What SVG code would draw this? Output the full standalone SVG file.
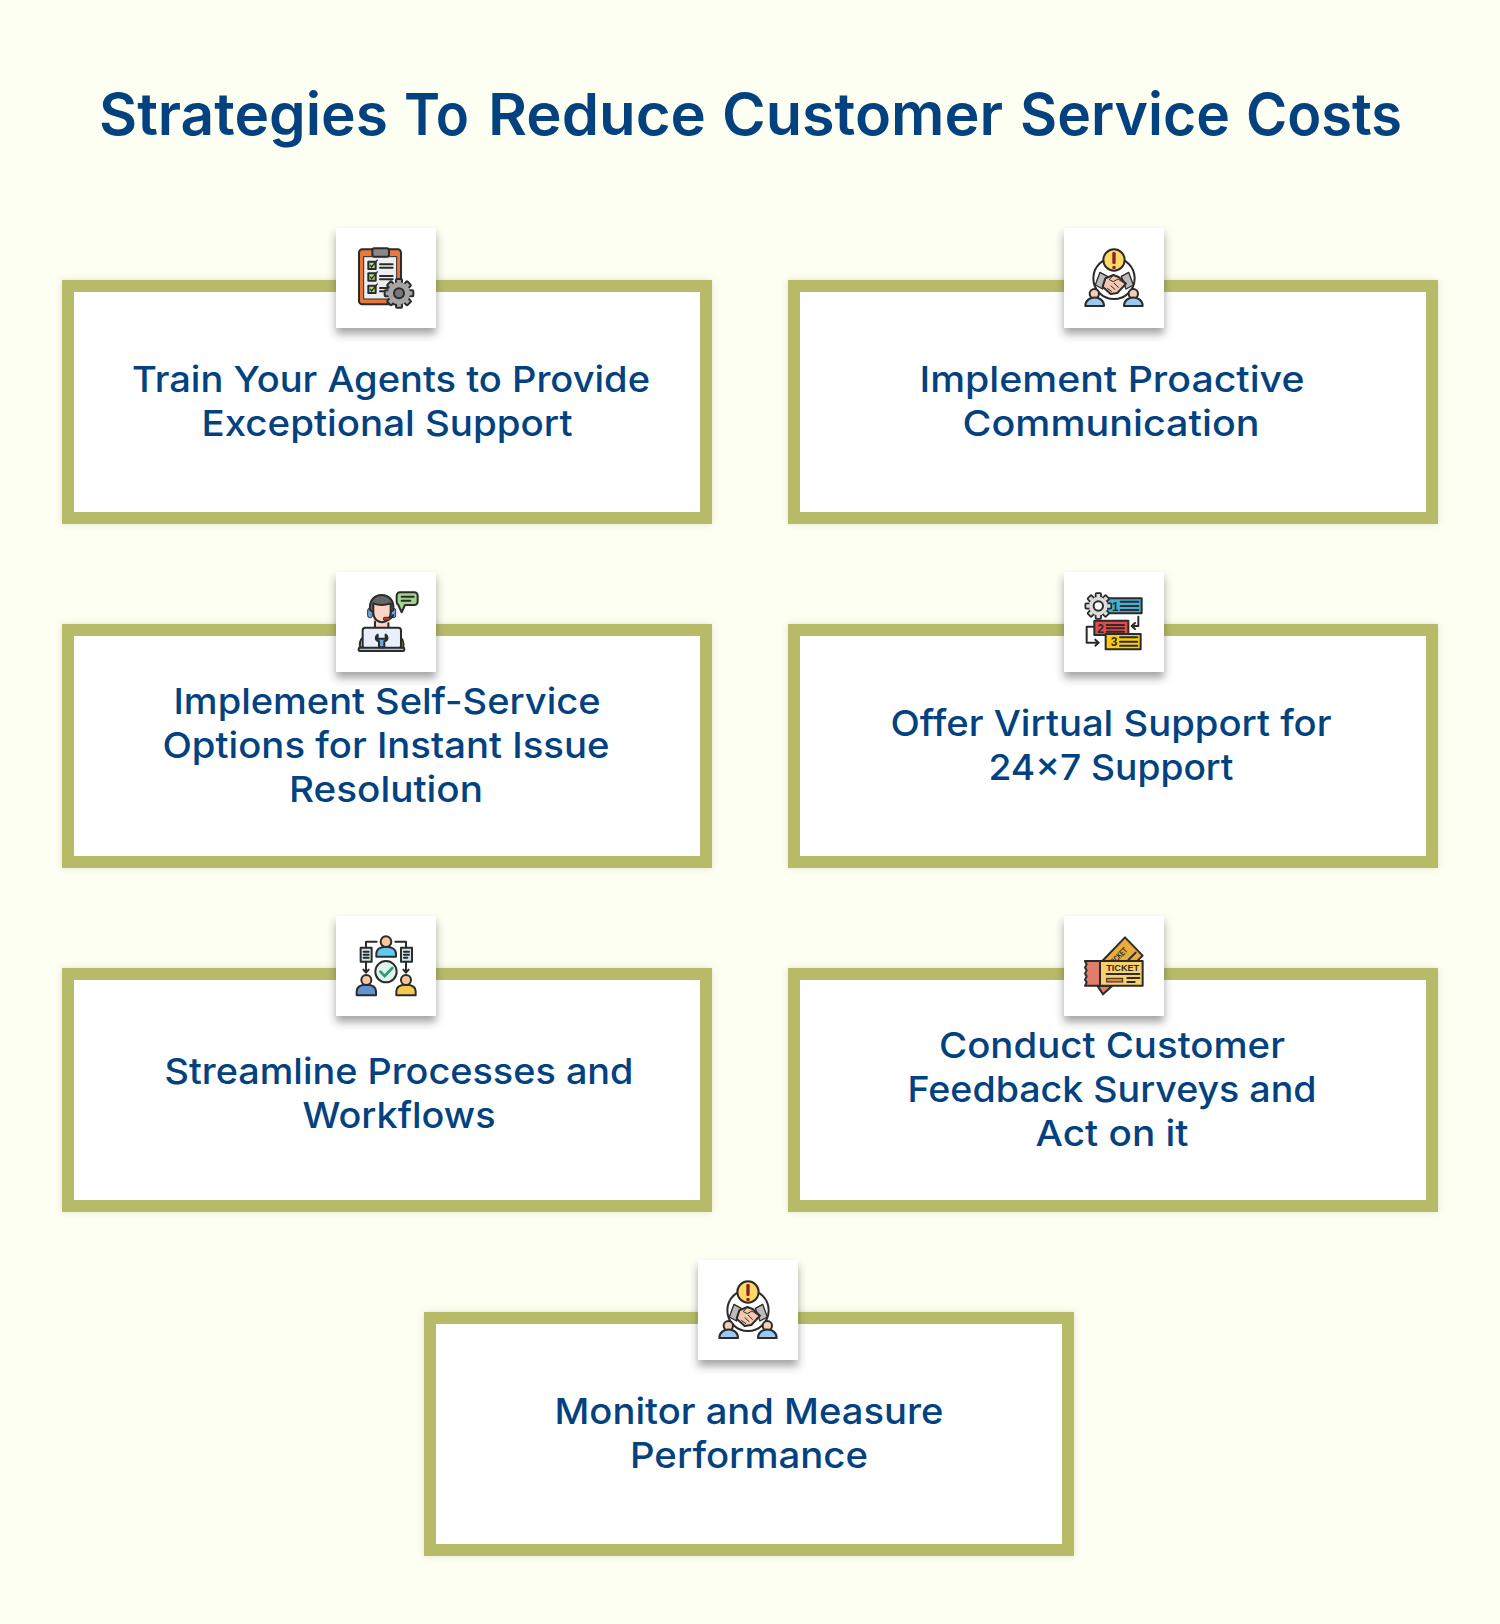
<svg xmlns="http://www.w3.org/2000/svg" xmlns:xlink="http://www.w3.org/1999/xlink" width="1500" height="1624" viewBox="0 0 1500 1624">
<style>
.box{fill:#fff;stroke:#b7bb68;stroke-width:12;filter:url(#glow)}
.tile{fill:#fff;filter:url(#sh)}
.t{font-family:"Inter","Liberation Sans",sans-serif;font-size:36px;fill:#04427f;text-anchor:middle;font-weight:450}
.h{font-family:"Inter","Liberation Sans",sans-serif;font-size:58px;font-weight:600;fill:#04427f}
.k{stroke:#2b2b2b;stroke-width:6;stroke-linejoin:round;stroke-linecap:round}
.l{stroke:#2b2b2b;stroke-width:6;stroke-linecap:round;stroke-linejoin:round;fill:none}
.d{font-family:"Liberation Sans",sans-serif;font-weight:700;fill:#2b2b2b;text-anchor:middle}
</style>
<defs>
<filter id="sh" x="-25%" y="-25%" width="150%" height="155%"><feDropShadow dx="0" dy="6" stdDeviation="4" flood-color="#333" flood-opacity=".45"/></filter>
<filter id="glow" x="-3%" y="-6%" width="106%" height="112%"><feDropShadow dx="0" dy="0" stdDeviation="3" flood-color="#8b8f50" flood-opacity=".25"/></filter>
<g id="tooth"><rect x="-9" y="-43" width="18" height="16" rx="3"/></g>
<g id="gear"><g class="k">
<use href="#tooth"/><use href="#tooth" transform="rotate(45)"/><use href="#tooth" transform="rotate(90)"/><use href="#tooth" transform="rotate(135)"/><use href="#tooth" transform="rotate(180)"/><use href="#tooth" transform="rotate(225)"/><use href="#tooth" transform="rotate(270)"/><use href="#tooth" transform="rotate(315)"/></g></g>
<g id="shake">
<circle cx="192" cy="190" r="62" fill="#fff" class="k"/>
<circle cx="192" cy="135" r="32" fill="#ffd966" class="k"/>
<rect x="187" y="111" width="10" height="36" rx="4" fill="#8b2020"/><rect x="187" y="153" width="10" height="9" rx="3" fill="#8b2020"/>
<path d="M150 172l22 12-14 38-22-12zM236 172l-22 12 14 38 22-12z" fill="#bbb" stroke="#2b2b2b" stroke-width="4" stroke-linejoin="round"/>
<path d="M166 190l24-10 16 6 22 20-26 28-20 3-24-22z" fill="#f3c7b0" class="k" stroke-width="4"/>
<path d="M190 180l-12 14 12 6 14-8 24 16M172 220l14 10M182 212l14 12M192 204l14 14" fill="none" stroke="#2b2b2b" stroke-width="3"/>
<circle cx="133" cy="236" r="14" fill="#f5cdb8" class="k"/><path d="M106 273c0-34 56-34 56 0z" fill="#9cc9f2" class="k"/>
<circle cx="250" cy="236" r="14" fill="#f5cdb8" class="k"/><path d="M222 273c0-34 56-34 56 0z" fill="#9cc9f2" class="k"/>
</g>
</defs>
<rect width="1500" height="1624" fill="#fefff3"/>
<text class="h" y="135"><tspan x="99" textLength="289" lengthAdjust="spacingAndGlyphs">Strategies</tspan><tspan x="404" textLength="65" lengthAdjust="spacingAndGlyphs">To</tspan><tspan x="488" textLength="218" lengthAdjust="spacingAndGlyphs">Reduce</tspan><tspan x="722" textLength="281" lengthAdjust="spacingAndGlyphs">Customer</tspan><tspan x="1020" textLength="210" lengthAdjust="spacingAndGlyphs">Service</tspan><tspan x="1246" textLength="156" lengthAdjust="spacingAndGlyphs">Costs</tspan></text>

<g id="node-1"><rect class="box" x="68" y="286" width="638" height="232"/><rect class="tile" x="336" y="228" width="100" height="100"/>
<g transform="translate(320,215) scale(.3333)">
<rect x="117" y="103" width="126" height="165" rx="10" fill="#e9793b" class="k"/><rect x="131" y="125" width="99" height="127" fill="#eee" stroke="#2b2b2b" stroke-width="3"/><rect x="157" y="100" width="50" height="25" rx="6" fill="#888" class="k"/>
<g fill="#a8e27a" class="k"><rect x="145" y="140" width="22" height="22"/><rect x="145" y="175" width="22" height="22"/><rect x="145" y="212" width="22" height="22"/></g>
<path d="M150 150l5 6 18-22M150 185l5 6 18-22M150 222l5 6 18-22" fill="none" stroke="#2b2b2b" stroke-width="4"/>
<path class="l" d="M180 148h38M180 158h38M180 183h38M180 193h38M180 219h24M180 229h24"/>
<g transform="translate(237,235)"><use href="#gear" fill="#a5a5a5"/><circle r="33" fill="#a5a5a5"/><circle r="15" fill="#777" class="k"/></g>
</g>
<text class="t" x="391" y="392" textLength="518" lengthAdjust="spacingAndGlyphs">Train Your Agents to Provide</text>
<text class="t" x="387" y="436" textLength="371" lengthAdjust="spacingAndGlyphs">Exceptional Support</text></g>

<g id="node-2"><rect class="box" x="794" y="286" width="638" height="232"/><rect class="tile" x="1064" y="228" width="100" height="100"/>
<g transform="translate(1050,215) scale(.3333)"><use href="#shake"/></g>
<text class="t" x="1112" y="392" textLength="385" lengthAdjust="spacingAndGlyphs">Implement Proactive</text>
<text class="t" x="1111" y="436" textLength="297" lengthAdjust="spacingAndGlyphs">Communication</text></g>

<g id="node-3"><rect class="box" x="68" y="630" width="638" height="232"/><rect class="tile" x="336" y="572" width="100" height="100"/>
<g transform="translate(320,560) scale(.3333)">
<rect x="160" y="175" width="50" height="30" fill="#fdd5c5"/>
<path d="M120 263c-2-20 4-28 10-30v30zM250 263c2-20-4-28-10-30v30z" fill="#f6c850" class="k"/>
<rect x="143" y="145" width="14" height="28" rx="6" fill="#6ea5de" stroke="#2b2b2b" stroke-width="3"/><rect x="213" y="145" width="14" height="28" rx="6" fill="#6ea5de" stroke="#2b2b2b" stroke-width="3"/>
<path d="M150 150c-8-60 78-60 70 0l-8 6-52 0z" fill="#666" class="k"/>
<path d="M160 130c20 8 40 4 52 0v28c0 38-52 38-52 0z" fill="#fdd5c5" class="k"/>
<path d="M220 165c-2 10-12 13-24 13" class="l"/><rect x="190" y="172" width="20" height="9" rx="4" fill="#c33" stroke="#2b2b2b" stroke-width="3"/>
<path d="M165 185v18M205 190v13" class="l"/>
<rect x="128" y="203" width="115" height="62" rx="8" fill="#e6effb" class="k"/>
<rect x="116" y="263" width="137" height="10" rx="4" fill="#9cc2ee" class="k"/>
<path d="M173 224c-8 6-8 18 4 20v18h16v-18c12-2 12-14 4-20v12h-24z" fill="#6ea5de" class="k" stroke-width="4"/>
<path d="M240 97h43a10 10 0 0 1 10 10v18a10 10 0 0 1-10 10h-28l-10 22-10-22a10 10 0 0 1-5-10v-18a10 10 0 0 1 10-10z" fill="#a0d58c" class="k"/>
<path class="l" d="M245 110h36M245 122h26"/>
</g>
<text class="t" x="387" y="714" textLength="427" lengthAdjust="spacingAndGlyphs">Implement Self-Service</text>
<text class="t" x="386" y="758" textLength="447" lengthAdjust="spacingAndGlyphs">Options for Instant Issue</text>
<text class="t" x="386" y="802" textLength="194" lengthAdjust="spacingAndGlyphs">Resolution</text></g>

<g id="node-4"><rect class="box" x="794" y="630" width="638" height="232"/><rect class="tile" x="1064" y="572" width="100" height="100"/>
<g transform="translate(1050,560) scale(.3333)">
<rect x="170" y="115" width="105" height="45" fill="#3cb4d8" class="k"/>
<g transform="translate(145,138)"><use href="#gear" fill="#ddd" transform="scale(.9)"/><circle r="28" fill="#ddd"/><circle r="14" fill="#fff" class="k"/></g>
<rect x="133" y="182" width="102" height="43" fill="#e84a4a" class="k"/>
<rect x="167" y="222" width="105" height="46" fill="#ffcc10" class="k"/>
<text class="d" x="196" y="152" font-size="36">1</text><text class="d" x="152" y="218" font-size="36">2</text><text class="d" x="192" y="258" font-size="36">3</text>
<path class="l" d="M212 125h53M212 138h53M212 150h53M170 195h52M170 205h52M170 215h52M210 232h52M210 245h52M210 257h52"/>
<path class="l" d="M265 170v28h-20M255 189l-10 9 10 9M130 200h-20v48h35M136 239l10 9-10 9"/>
</g>
<text class="t" x="1111" y="736" textLength="441" lengthAdjust="spacingAndGlyphs">Offer Virtual Support for</text>
<text class="t" x="1111" y="780" textLength="245" lengthAdjust="spacingAndGlyphs">24×7 Support</text></g>

<g id="node-5"><rect class="box" x="68" y="974" width="638" height="232"/><rect class="tile" x="336" y="916" width="100" height="100"/>
<g transform="translate(320,905) scale(.3333)">
<path class="l" d="M170 110h-32v18M226 110h32v18M138 170v32M258 170v32M130 194l8 9 8-9M250 194l8 9 8-9"/>
<rect x="122" y="128" width="33" height="42" fill="#cfe4ef" class="k"/><rect x="243" y="128" width="33" height="42" fill="#cfe4ef" class="k"/>
<path class="l" stroke-width="4" d="M131 140h15M131 149h15M131 158h15M252 140h15M252 149h15M252 158h10"/>
<path d="M169 155v-8c0-14 12-22 29-22s30 8 30 22v8z" fill="#5fc9f2" class="k"/>
<circle cx="198" cy="110" r="16" fill="#f8c79e" class="k"/>
<circle cx="198" cy="200" r="32" fill="#dff3ec" class="k"/>
<path d="M181 200l13 13 23-24" fill="none" stroke="#2a9d78" stroke-width="8" stroke-linecap="round"/>
<path d="M110 271v-12c0-14 12-20 29-20s29 6 29 20v12z" fill="#5e94d4" class="k"/><circle cx="139" cy="225" r="15" fill="#f8c79e" class="k"/>
<path d="M229 271v-12c0-14 12-20 29-20s29 6 29 20v12z" fill="#f6c850" class="k"/><circle cx="258" cy="225" r="15" fill="#f8c79e" class="k"/>
</g>
<text class="t" x="399" y="1084" textLength="469" lengthAdjust="spacingAndGlyphs">Streamline Processes and</text>
<text class="t" x="399" y="1128" textLength="193" lengthAdjust="spacingAndGlyphs">Workflows</text></g>

<g id="node-6"><rect class="box" x="794" y="974" width="638" height="232"/><rect class="tile" x="1064" y="916" width="100" height="100"/>
<g transform="translate(1050,905) scale(.3333)">
<path d="M157 168L225 97l53 55-18 18z" fill="#e8ad3a" class="k"/>
<text class="d" transform="translate(212,160) rotate(-45)" font-size="26" text-anchor="middle" textLength="62" lengthAdjust="spacingAndGlyphs">TICKET</text>
<path class="l" stroke-width="4" d="M235 165l22-22"/>
<path d="M142 242l17 26 28-26z" fill="#e27d6c" class="k"/>
<path d="M105 168h48v74h-48l5-10-5-8 5-10-5-8 5-10-5-8 5-10-5-10z" fill="#e27d6c" class="k"/>
<rect x="150" y="168" width="128" height="74" fill="#fad06a" class="k"/>
<text class="d" x="218" y="198" font-size="27" textLength="98" lengthAdjust="spacingAndGlyphs">TICKET</text>
<path class="l" d="M170 207h98M232 219h36M232 231h22"/>
<rect x="170" y="220" width="48" height="11" fill="#e8813a" stroke="#2b2b2b" stroke-width="3"/>
</g>
<text class="t" x="1112" y="1058" textLength="346" lengthAdjust="spacingAndGlyphs">Conduct Customer</text>
<text class="t" x="1112" y="1102" textLength="409" lengthAdjust="spacingAndGlyphs">Feedback Surveys and</text>
<text class="t" x="1112" y="1146" textLength="153" lengthAdjust="spacingAndGlyphs">Act on it</text></g>

<g id="node-7"><rect class="box" x="430" y="1318" width="638" height="232"/><rect class="tile" x="698" y="1260" width="100" height="100"/>
<g transform="translate(684,1247) scale(.3333)"><use href="#shake"/></g>
<text class="t" x="749" y="1424" textLength="389" lengthAdjust="spacingAndGlyphs">Monitor and Measure</text>
<text class="t" x="749" y="1468" textLength="238" lengthAdjust="spacingAndGlyphs">Performance</text></g>
<g id="connectors"></g>
</svg>
